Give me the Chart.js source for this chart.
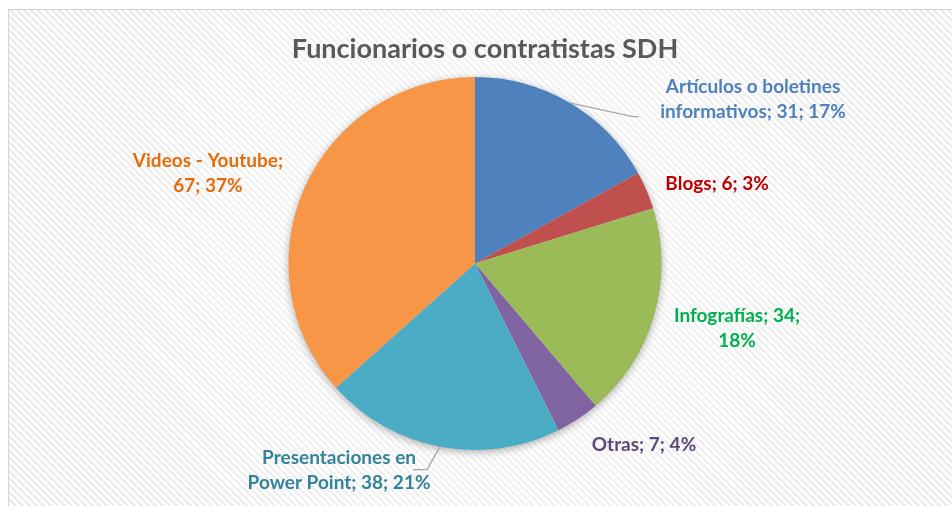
<!DOCTYPE html>
<html>
<head>
<meta charset="utf-8">
<script src="https://cdn.jsdelivr.net/npm/chart.js@4.4.1/dist/chart.umd.min.js"></script>
<style>
html,body{margin:0;padding:0;background:#fff;}
#wrap{width:952px;height:506px;}
</style>
</head>
<body>
<div id="wrap"><canvas id="c" width="952" height="506"></canvas></div>
<script>
// ---- data ----
const titleText = "Funcionarios o contratistas SDH";
const categories = ["Artículos o boletines informativos", "Blogs", "Infografías", "Otras", "Presentaciones en Power Point", "Videos - Youtube"];
const values = [31, 6, 34, 7, 38, 67];
const percents = [17, 3, 18, 4, 21, 37];

// ---- styling ----
const sliceColors = ["#4F81BD", "#C0504D", "#9BBB59", "#8064A2", "#4BACC6", "#F79646"];
const labelColors = ["#4F81BD", "#C00000", "#00B050", "#5F497A", "#31849B", "#E46C0A"];
const breakAfterWord = [3, 0, 2, 0, 2, 3];
// label anchor, relative to pie centre, in units of radius
const labelAnchor = [[1.491,-0.879],[1.298,-0.429],[1.405,0.349],[0.906,0.971],[-0.729,1.110],[-1.432,-0.483]];
// leader line bend points (radius units); null = no leader
const leaders = [[[0.847,-0.788],[0.879,-0.788]], null, null, null, [[-0.257,1.105],[-0.332,1.105]], null];
const FONT = "Lato, 'Open Sans', sans-serif";

function labelLines(i){
  const txt = categories[i] + "; " + values[i] + "; " + percents[i] + "%";
  const w = txt.split(" ");
  const b = breakAfterWord[i];
  if (!b) return [txt];
  return [w.slice(0,b).join(" "), w.slice(b).join(" ")];
}

const bgPlugin = {
  id: 'bg',
  beforeDraw(chart){
    const ctx = chart.ctx;
    ctx.save();
    ctx.fillStyle = '#fff';
    ctx.fillRect(0,0,chart.width,chart.height);
    // stripe pattern
    const p = document.createElement('canvas');
    p.width = 7; p.height = 7;
    const pc = p.getContext('2d');
    pc.fillStyle = '#ffffff'; pc.fillRect(0,0,7,7);
    pc.strokeStyle = '#ebebeb'; pc.lineWidth = 2.4;
    pc.beginPath();
    pc.moveTo(-7,-7); pc.lineTo(14,14);
    pc.moveTo(-7,0); pc.lineTo(7,14);
    pc.moveTo(0,-7); pc.lineTo(14,7);
    pc.stroke();
    const pat = ctx.createPattern(p,'repeat');
    ctx.fillStyle = pat;
    ctx.fillRect(8.5,9.5,chart.width,chart.height);
    // soft glow in the middle
    const g = ctx.createRadialGradient(480,250,0,480,250,420);
    g.addColorStop(0,'rgba(255,255,255,0.75)');
    g.addColorStop(0.6,'rgba(255,255,255,0.3)');
    g.addColorStop(1,'rgba(255,255,255,0)');
    ctx.fillStyle = g;
    ctx.fillRect(8.5,9.5,chart.width,chart.height);
    ctx.strokeStyle = '#d4d4d4'; ctx.lineWidth = 1;
    ctx.strokeRect(8.5,9.5,chart.width+10,chart.height+10);
    // title
    ctx.fillStyle = '#595959';
    ctx.font = "bold 27px " + FONT;
    ctx.textAlign = 'center'; ctx.textBaseline = 'middle';
    ctx.fillText(titleText, 485, 49);
    ctx.restore();
  },
  beforeDatasetsDraw(chart){
    const arc = chart.getDatasetMeta(0).data[0];
    if (!arc) return;
    const ctx = chart.ctx;
    ctx.save();
    ctx.shadowColor = 'rgba(0,0,0,0.35)';
    ctx.shadowBlur = 8; ctx.shadowOffsetY = 2;
    ctx.fillStyle = '#ddd';
    ctx.beginPath(); ctx.arc(arc.x, arc.y, arc.outerRadius-0.5, 0, Math.PI*2); ctx.fill();
    ctx.restore();
  }
};

const labelPlugin = {
  id: 'sliceLabels',
  afterDatasetsDraw(chart){
    const ctx = chart.ctx;
    const meta = chart.getDatasetMeta(0);
    ctx.save();
    meta.data.forEach((a,i)=>{
      const cx = a.x, cy = a.y, r = a.outerRadius;
      const mid = (a.startAngle + a.endAngle)/2;
      if (leaders[i]) {
        ctx.strokeStyle = '#a6a6a6'; ctx.lineWidth = 1.3;
        ctx.beginPath();
        ctx.moveTo(cx + Math.cos(mid)*r, cy + Math.sin(mid)*r);
        leaders[i].forEach(pt => ctx.lineTo(cx + pt[0]*r, cy + pt[1]*r));
        ctx.stroke();
      }
      const lines = labelLines(i);
      const lx = cx + labelAnchor[i][0]*r, ly = cy + labelAnchor[i][1]*r;
      ctx.fillStyle = labelColors[i];
      ctx.font = "bold 19px " + FONT;
      ctx.textAlign = 'center'; ctx.textBaseline = 'middle';
      const lh = 25;
      lines.forEach((t,k)=>{
        ctx.fillText(t, lx, ly + (k - (lines.length-1)/2)*lh);
      });
    });
    ctx.restore();
  }
};

new Chart(document.getElementById('c'), {
  type: 'pie',
  data: {
    labels: categories,
    datasets: [{
      data: values,
      backgroundColor: sliceColors,
      borderWidth: 0
    }]
  },
  options: {
    responsive: false,
    animation: false,
    layout: { padding: { top: 77, bottom: 56, left: 200, right: 202 } },
    plugins: {
      legend: { display: false },
      tooltip: { enabled: false },
      title: { display: false }
    }
  },
  plugins: [bgPlugin, labelPlugin]
});
</script>
</body>
</html>
